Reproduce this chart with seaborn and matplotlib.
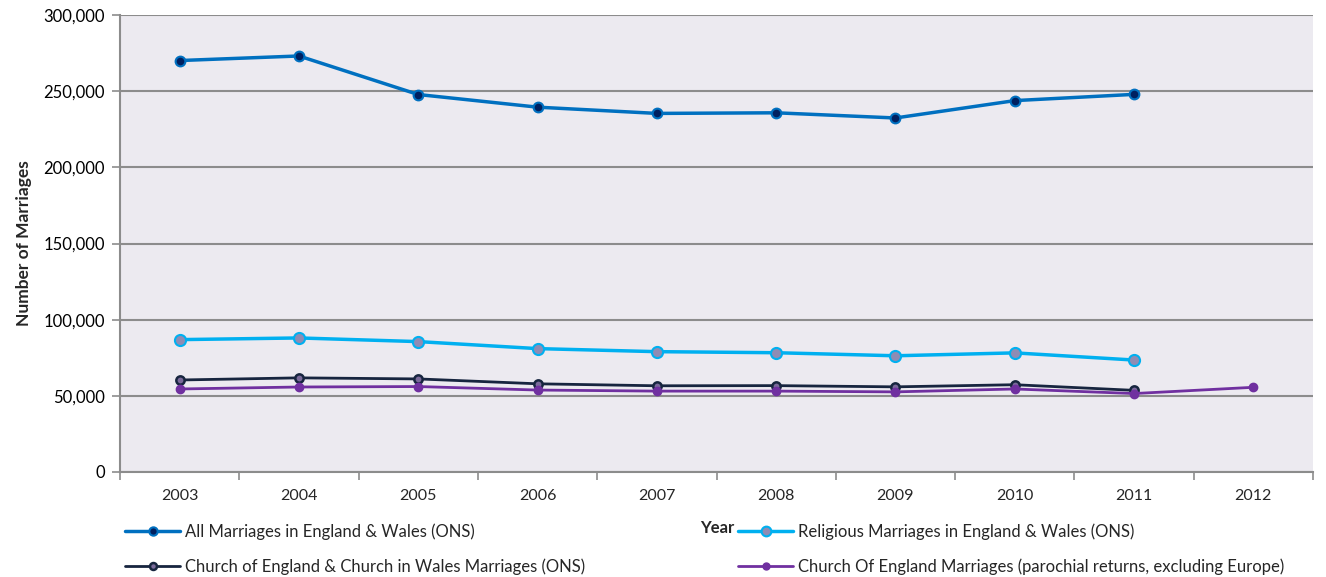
import numpy as np
import pandas as pd
import matplotlib
matplotlib.use("Agg")
import matplotlib.pyplot as plt
from matplotlib.ticker import FuncFormatter, FixedLocator
from matplotlib.lines import Line2D
import seaborn as sns

# data
years = [2003, 2004, 2005, 2006, 2007, 2008, 2009, 2010, 2011, 2012]
all_marriages = [270100, 273100, 247800, 239500, 235400, 235800, 232400, 243800, 247900]
religious = [86900, 88000, 85600, 81000, 79000, 78300, 76300, 78200, 73500]
church_ew = [60400, 61800, 61100, 57900, 56600, 56700, 55900, 57300, 53600]
cofe_parochial = [54500, 55800, 56100, 53800, 53100, 53100, 52600, 54500, 51500, 55600]

labels = [
    "All Marriages in England & Wales (ONS)",
    "Religious Marriages in England & Wales (ONS)",
    "Church of England & Church in Wales Marriages (ONS)",
    "Church Of England Marriages (parochial returns, excluding Europe)",
]

sns.set_theme(style="white")
plt.rcParams["font.family"] = ["Lato", "DejaVu Sans"]

fig = plt.figure(figsize=(13.26, 5.77), dpi=100)
ax = fig.add_axes([120 / 1326, 1 - 472 / 577, 1193 / 1326, 457 / 577])
ax.set_facecolor("#ECEAF0")

styles = [
    dict(color="#0070C0", lw=2.5, mfc="#002060", mec="#0070C0", ms=7, mew=1.5),
    dict(color="#00B0F0", lw=2.5, mfc="#8E8CB4", mec="#00B0F0", ms=8, mew=1.5),
    dict(color="#17253F", lw=2.0, mfc="#7A6A9A", mec="#17253F", ms=6, mew=1.8),
    dict(color="#7030A0", lw=2.0, mfc="#7030A0", mec="#7030A0", ms=6, mew=1.0),
]
series = [all_marriages, religious, church_ew, cofe_parochial]

handles = []
for vals, lab, st in zip(series, labels, styles):
    df = pd.DataFrame({"year": years[:len(vals)], "value": vals})
    sns.lineplot(data=df, x="year", y="value", ax=ax, color=st["color"],
                 linewidth=st["lw"], marker="o", markersize=st["ms"],
                 markerfacecolor=st["mfc"], markeredgecolor=st["mec"],
                 markeredgewidth=st["mew"], legend=False)
    handles.append(Line2D([], [], color=st["color"], lw=st["lw"], marker="o",
                          markersize=st["ms"] - 1, markerfacecolor=st["mfc"],
                          markeredgecolor=st["mec"], markeredgewidth=st["mew"]))

ax.set_xlim(2002.5, 2012.5)
ax.set_ylim(0, 300000)
ax.set_yticks(np.arange(0, 300001, 50000))
ax.yaxis.set_major_formatter(FuncFormatter(lambda v, p: f"{int(v):,}"))
ax.set_xticks(years)
ax.set_xticklabels([str(y) for y in years])
ax.xaxis.set_minor_locator(FixedLocator(np.arange(2002.5, 2013, 1)))

ax.grid(axis="y", color="#8C8C8C", linewidth=1.5)
ax.set_axisbelow(True)
for s in ["top", "right"]:
    ax.spines[s].set_visible(False)
for s in ["left", "bottom"]:
    ax.spines[s].set_color("#8C8C8C")
    ax.spines[s].set_linewidth(1.5)

ax.tick_params(axis="y", which="major", direction="out", length=6, width=1.2,
               color="#8C8C8C", labelsize=12, labelcolor="#000000", pad=5, left=True)
ax.tick_params(axis="x", which="major", length=0, labelsize=11.5, pad=12)
ax.tick_params(axis="x", which="minor", direction="out", length=6, width=1.2,
               color="#8C8C8C", bottom=True)

ax.set_xlabel("")
ax.set_ylabel("Number of Marriages", fontsize=12.5, fontweight="bold", labelpad=8)
fig.text(717 / 1326, 1 - 528 / 577, "Year", fontsize=12, fontweight="bold",
         ha="center", va="center")

leg_kw = dict(frameon=False, fontsize=12, handlelength=3.3, handletextpad=0.3,
              labelspacing=1.15, borderaxespad=0, borderpad=0)
leg1 = fig.legend([handles[0], handles[2]], [labels[0], labels[2]],
                  loc="upper left", bbox_to_anchor=(125 / 1326, 1 - 523 / 577), **leg_kw)
leg2 = fig.legend([handles[1], handles[3]], [labels[1], labels[3]],
                  loc="upper left", bbox_to_anchor=(738 / 1326, 1 - 523 / 577), **leg_kw)

fig.savefig("out.png", dpi=100, facecolor="white")
